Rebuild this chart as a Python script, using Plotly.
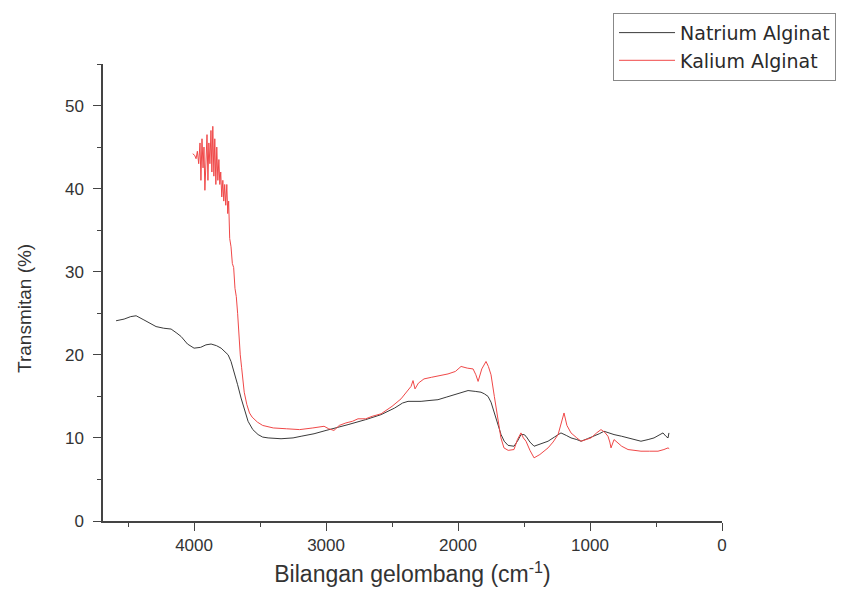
import plotly.graph_objects as go

# Natrium Alginat (black)
na_x = [4591, 4530, 4480, 4439, 4380, 4330, 4288, 4230, 4174, 4130, 4098, 4050, 4000, 3950, 3910,
        3871, 3830, 3795, 3765, 3742, 3720, 3697, 3670, 3644, 3615, 3591, 3555, 3515, 3480, 3439,
        3341, 3250, 3189, 3091, 3000, 2920, 2833, 2700, 2583, 2480, 2420, 2379, 2330, 2280, 2220,
        2152, 2090, 2030, 1975, 1924, 1870, 1826, 1800, 1773, 1750, 1727, 1700, 1674, 1650, 1621,
        1576, 1550, 1523, 1500, 1485, 1455, 1424, 1370, 1318, 1270, 1220, 1180, 1144, 1100, 1068,
        1020, 970, 930, 894, 860, 818, 760, 712, 660, 614, 560, 515, 470, 447, 425, 409, 402]
na_y = [24.1, 24.3, 24.6, 24.7, 24.2, 23.8, 23.4, 23.2, 23.1, 22.6, 22.2, 21.3, 20.8, 20.9, 21.2,
        21.3, 21.1, 20.8, 20.4, 20.0, 19.2, 18.0, 16.4, 14.8, 13.2, 12.0, 11.0, 10.4, 10.1, 10.0,
        9.9, 10.0, 10.2, 10.5, 10.9, 11.2, 11.6, 12.2, 12.8, 13.6, 14.2, 14.4, 14.4, 14.4, 14.5,
        14.6, 14.9, 15.2, 15.5, 15.7, 15.6, 15.5, 15.3, 15.0, 14.3, 13.2, 11.8, 10.4, 9.6, 9.1,
        9.0, 9.6, 10.4, 10.4, 10.2, 9.5, 9.0, 9.3, 9.6, 10.1, 10.6, 10.3, 10.0, 9.8, 9.6,
        9.9, 10.2, 10.5, 10.8, 10.6, 10.4, 10.2, 10.0, 9.8, 9.6, 9.8, 10.0, 10.4, 10.6, 10.2, 10.0, 10.6]

# Kalium Alginat (red)
ka_x = [4010, 3995, 3985, 3975, 3965, 3955, 3948, 3940, 3932, 3925, 3918, 3910, 3902, 3895, 3888,
        3880, 3872, 3865, 3858, 3850, 3843, 3835, 3828, 3820, 3812, 3805, 3798, 3790, 3782, 3775,
        3768, 3760, 3752, 3745, 3738, 3730, 3720, 3710, 3700, 3690, 3680, 3670, 3660, 3650, 3640,
        3630, 3620, 3600, 3580, 3560, 3520, 3480, 3400, 3300, 3200, 3100, 3015, 2980, 2940, 2900,
        2850, 2800, 2758, 2700, 2650, 2583, 2500, 2432, 2390, 2356, 2341, 2326, 2300, 2258, 2200,
        2140, 2076, 2020, 1977, 1930, 1886, 1865, 1848, 1820, 1788, 1770, 1750, 1725, 1697, 1675,
        1652, 1620, 1576, 1550, 1523, 1505, 1485, 1455, 1424, 1380, 1318, 1280, 1242, 1215, 1197,
        1175, 1144, 1100, 1068, 1030, 992, 950, 917, 890, 864, 850, 841, 818, 790, 760,
        712, 660, 614, 550, 485, 440, 409, 400]
ka_y = [44.2, 44.0, 43.6, 44.5, 43.0, 45.5, 41.0, 46.0, 42.5, 45.0, 39.8, 44.0, 46.5, 41.0, 45.5,
        43.0, 47.0, 42.0, 47.5, 41.5, 46.0, 40.5, 45.0, 41.0, 43.5, 40.5, 42.0, 39.0, 41.0, 38.5,
        40.5, 38.0, 40.5, 37.0, 38.5, 34.0, 33.0, 31.0, 30.5, 28.0, 27.0, 25.0, 22.0, 20.0, 18.5,
        16.5, 15.5, 14.0, 13.0, 12.5, 11.9, 11.5, 11.2, 11.1, 11.0, 11.2, 11.4, 11.1, 10.9, 11.5,
        11.8, 12.0, 12.3, 12.3, 12.6, 12.9, 13.8, 14.7, 15.5, 16.2, 16.9, 15.9, 16.6, 17.1, 17.3,
        17.5, 17.7, 18.0, 18.6, 18.4, 18.3, 17.6, 16.8, 18.3, 19.2, 18.6, 17.6, 15.0, 12.2, 10.0,
        8.8, 8.5, 8.6, 9.8, 10.6, 10.0, 9.6, 8.5, 7.6, 8.0, 8.8, 9.5, 10.4, 11.8, 13.0,
        11.5, 10.6, 10.0, 9.6, 9.8, 10.0, 10.6, 11.0, 10.7, 10.2, 9.5, 8.8, 9.8, 9.4, 9.0,
        8.6, 8.5, 8.4, 8.4, 8.4, 8.6, 8.8, 8.7]

x_tickvals = [4000, 3000, 2000, 1000, 0]
y_tickvals = [0, 10, 20, 30, 40, 50]

fig = go.Figure()
fig.add_trace(go.Scatter(x=na_x, y=na_y, mode="lines", name="Natrium Alginat",
                         line=dict(color="#3a3a3a", width=1)))
fig.add_trace(go.Scatter(x=ka_x, y=ka_y, mode="lines", name="Kalium Alginat",
                         line=dict(color="#f04848", width=1)))

axis_font = dict(family="Liberation Sans, Arial", size=17, color="#333333")
fig.update_layout(
    width=845, height=595,
    margin=dict(l=95, r=131, t=56, b=82, autoexpand=False),
    paper_bgcolor="white", plot_bgcolor="white",
    showlegend=True,
    legend=dict(xref="container", yref="container", x=0.716, y=0.992,
                xanchor="left", yanchor="top",
                bordercolor="#888888", borderwidth=1, bgcolor="white",
                font=dict(family="DejaVu Sans", size=19, color="#2a2a2a"),
                tracegroupgap=0, itemwidth=56),
    xaxis=dict(range=[4690, 0], tickvals=x_tickvals, ticktext=[str(v) for v in x_tickvals],
               automargin=False,
               showgrid=False, zeroline=False, showline=True, linecolor="#444444", linewidth=1.5,
               ticks="outside", ticklen=8, tickcolor="#444444", tickfont=axis_font,
               minor=dict(ticks="outside", ticklen=4, dtick=1000, tick0=500, tickcolor="#444444"),
               title=dict(text="Bilangan gelombang (cm<sup>-1</sup>)", standoff=12,
                          font=dict(family="Liberation Sans, Arial", size=23, color="#333333"))),
    yaxis=dict(range=[0, 55], tickvals=y_tickvals, ticktext=[str(v) for v in y_tickvals],
               automargin=False, ticklabelstandoff=6,
               showgrid=False, zeroline=False, showline=True, linecolor="#444444", linewidth=1.5,
               ticks="outside", ticklen=8, tickcolor="#444444", tickfont=axis_font,
               minor=dict(ticks="outside", ticklen=4, dtick=10, tick0=5, tickcolor="#444444")),
    annotations=[dict(text="Transmitan (%)", textangle=-90, xref="paper", yref="paper",
                      x=-0.126, y=0.464, xanchor="center", yanchor="middle", showarrow=False,
                      font=dict(family="Liberation Sans, Arial", size=19, color="#333333"))],
)
fig.write_html("out.html")
